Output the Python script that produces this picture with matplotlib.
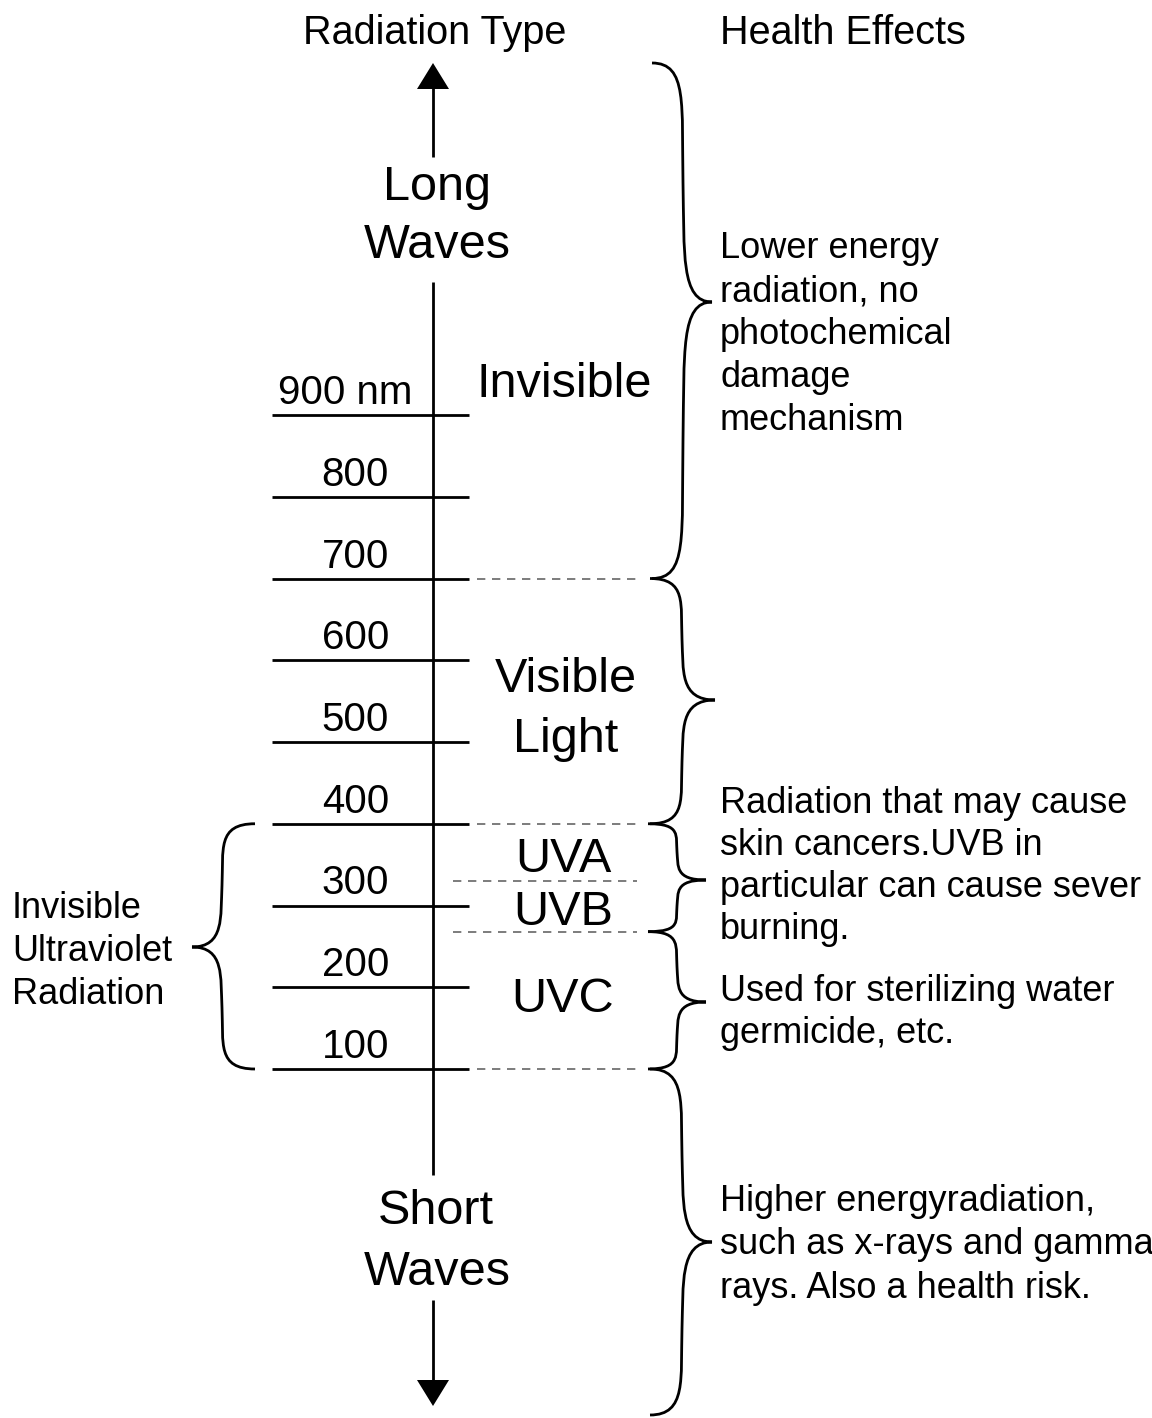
import numpy as np
import matplotlib
matplotlib.use("Agg")
import matplotlib.pyplot as plt
from matplotlib.path import Path
from matplotlib.patches import PathPatch, Polygon

plt.rcParams['font.family'] = ['Liberation Sans', 'DejaVu Sans']

# wavelength ticks (nm) and their labels
wavelengths = [900, 800, 700, 600, 500, 400, 300, 200, 100]
tick_labels = ['900 nm', '800', '700', '600', '500', '400', '300', '200', '100']

# band boundaries (nm)
dashed_edges = [700, 400, 100]
uv_splits = [330, 268]

# health effect text blocks
effects_top = ['Lower energy', 'radiation, no', 'photochemical', 'damage', 'mechanism']
effects_uvab = ['Radiation that may cause', 'skin cancers.UVB in',
                'particular can cause sever', 'burning.']
effects_uvc = ['Used for sterilizing water', 'germicide, etc.']
effects_short = ['Higher energyradiation,', 'such as x-rays and gamma',
                 'rays. Also a health risk.']
uv_group = ['Invisible', 'Ultraviolet', 'Radiation']

W, H = 1152, 1418
fig = plt.figure(figsize=(W / 100, H / 100), dpi=100)
ax = fig.add_axes([0, 0, 1, 1])
ax.set_axis_off()

# y axis in nm: 100 nm at pixel 1069, 900 nm at pixel 415
PX_PER_NM = (1069 - 415) / 800.0
def Y(px):
    # pixel row -> nm (for placing layout items)
    return 100 + (1069 - px) / PX_PER_NM

ax.set_xlim(0, W)
ax.set_ylim(Y(H), Y(0))

AX_X = 433
k = dict(color='black', lw=2, solid_capstyle='butt')

# main axis, broken by the Long/Short Waves labels
ax.plot([AX_X, AX_X], [Y(88), Y(157)], **k)
ax.plot([AX_X, AX_X], [Y(282), Y(1175)], **k)
ax.plot([AX_X, AX_X], [Y(1300), Y(1380)], **k)
ax.add_patch(Polygon([[AX_X, Y(63)], [AX_X - 16, Y(89)], [AX_X + 16, Y(89)]],
                     closed=True, color='black', lw=0))
ax.add_patch(Polygon([[AX_X, Y(1406)], [AX_X - 16, Y(1380)], [AX_X + 16, Y(1380)]],
                     closed=True, color='black', lw=0))

# ticks + labels
for wl, lab in zip(wavelengths, tick_labels):
    ax.plot([272, 469], [wl, wl], **k)
    if lab.endswith('nm'):
        ax.text(345, wl + 11 / PX_PER_NM, lab, fontsize=29, ha='center', va='baseline')
    else:
        ax.text(389, wl + 11 / PX_PER_NM, lab, fontsize=29, ha='right', va='baseline')

# dashed band separators
for wl in dashed_edges:
    ax.plot([477, 636], [wl, wl], color='#666666', lw=1.2, dashes=(5, 4))
for wl in uv_splits:
    ax.plot([453, 637], [wl, wl], color='#666666', lw=1.2, dashes=(5, 4))

# band names
big = dict(fontsize=35, ha='center', va='baseline')
ax.text(564, Y(397), 'Invisible', **big)
ax.text(566, Y(692), 'Visible', **big)
ax.text(566, Y(752), 'Light', **big)
ax.text(563, Y(872), 'UVA', **big)
ax.text(563, Y(925), 'UVB', **big)
ax.text(563, Y(1012), 'UVC', **big)
ax.text(437, Y(200), 'Long', **big)
ax.text(437, Y(258), 'Waves', **big)
ax.text(436, Y(1224), 'Short', **big)
ax.text(437, Y(1285), 'Waves', **big)

# headers
ax.text(435, Y(44), 'Radiation Type', fontsize=28.5, ha='center', va='baseline')
ax.text(720, Y(44), 'Health Effects', fontsize=28.5, ha='left', va='baseline')

def block(lines, x, base_px, step=43, ha='left'):
    for i, s in enumerate(lines):
        ax.text(x, Y(base_px + i * step), s, fontsize=26, ha=ha, va='baseline')

block(effects_top, 720, 258)
block(effects_uvab, 720, 813, step=42)
block(effects_uvc, 720, 1001, step=42)
block(effects_short, 720, 1211, step=43.5)
block(uv_group, 12, 918)

def half(y0, ym, xe, xs, xt):
    # one half of a brace, from end (xe, y0) to tip (xt, ym)
    L = ym - y0
    yh = y0 + L * 0.5
    a = min(abs(L) * 0.35, 70 / PX_PER_NM) * np.sign(L)
    dx = (xs - xe) * 0.15
    return [(xe, y0),
            (xs + dx, y0), (xs - dx * 0.3, y0 + a * 0.6), (xs, yh),
            (xs + dx * 0.3, ym - a * 0.7), (xs - dx * 0.5, ym), (xt, ym)]

def brace(y0, y1, ym, xe, xs, xt):
    top = half(y0, ym, xe, xs, xt)
    bot = half(y1, ym, xe, xs, xt)[::-1]
    verts = top + bot[1:]
    codes = [Path.MOVETO] + [Path.CURVE4] * 12
    ax.add_patch(PathPatch(Path(verts, codes), fill=False, lw=2, color='black'))

# right braces
brace(Y(63), 700, Y(302), 652, 683, 712)
brace(700, 400, Y(700), 650, 682, 715)
brace(400, 268, Y(880), 648, 677, 706)
brace(268, 100, Y(1002), 648, 677, 706)
brace(100, Y(1415), Y(1242), 650, 682, 712)
# left brace for UV group
brace(400, 100, Y(947), 255, 222, 192)

fig.savefig('out.png', dpi=100)
